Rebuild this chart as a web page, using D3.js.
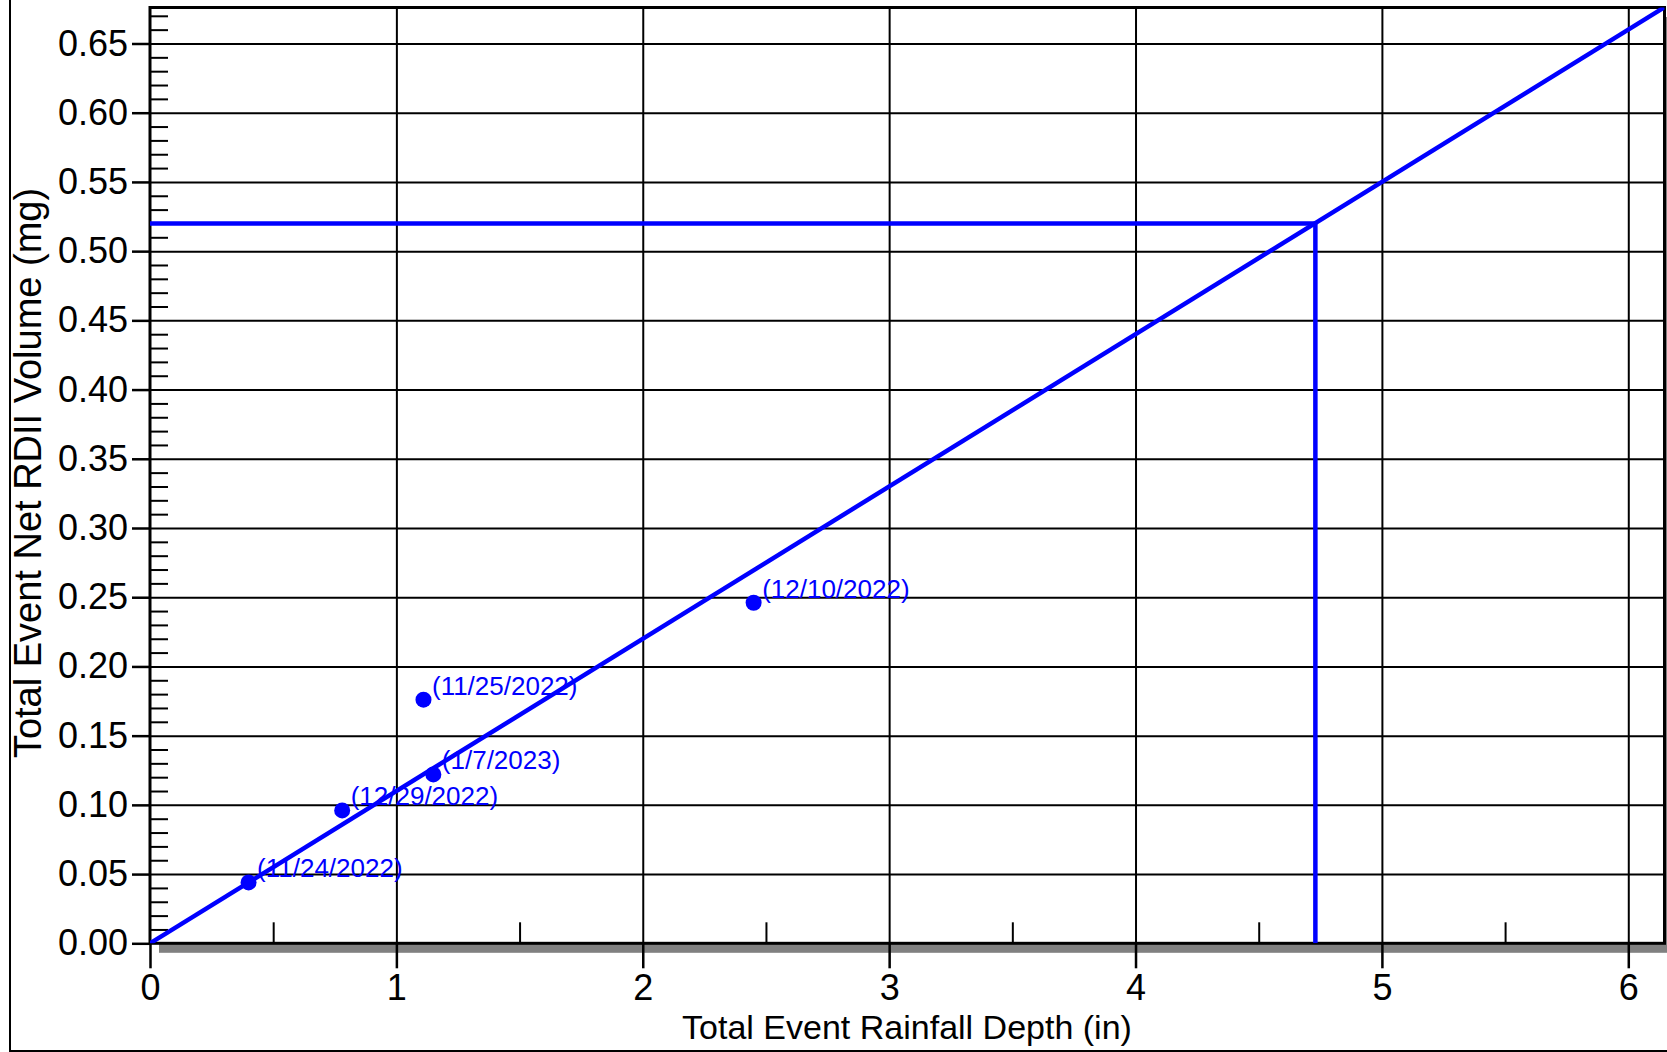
<!DOCTYPE html>
<html>
<head>
<meta charset="utf-8">
<script src="https://cdn.jsdelivr.net/npm/d3@7/dist/d3.min.js"></script>
<style>
  html, body { margin: 0; padding: 0; background: #fff; }
  svg { display: block; font-family: "Liberation Sans", Arial, sans-serif; }
</style>
</head>
<body>
<svg id="chart" width="1667" height="1052"></svg>
<script>
// Storm events: total rainfall depth vs. net RDII volume
const eventDates   = ["11/24/2022", "12/29/2022", "11/25/2022", "1/7/2023", "12/10/2022"];
const rainfallIn   = [0.40, 0.78, 1.11, 1.15, 2.45];
const rdiiVolumeMg = [0.044, 0.096, 0.176, 0.122, 0.246];

// Fitted line through the origin and the design-storm read-off
const fitSlope = 0.11;
const designRainfall = 4.73;
const designVolume = 0.52;

// Axis ticks
const xTickValues = [0, 1, 2, 3, 4, 5, 6];
const xMinorTicks = [0.5, 1.5, 2.5, 3.5, 4.5, 5.5];
const yTickValues = [0.00, 0.05, 0.10, 0.15, 0.20, 0.25, 0.30, 0.35, 0.40, 0.45, 0.50, 0.55, 0.60, 0.65];
const xDomain = [0, 6.147];
const yDomain = [0, 0.676];

const plotLeft = 150, plotRight = 1664.5, plotTop = 7.5, plotBottom = 943.3;
const blue = "#0000ff";

const svg = d3.select("#chart");
const x = d3.scaleLinear().domain(xDomain).range([plotLeft, plotRight]);
const y = d3.scaleLinear().domain(yDomain).range([plotBottom, plotTop]);
const yMinorTicks = d3.range(0, 0.6761, 0.01).map(v => +v.toFixed(2))
  .filter(v => !yTickValues.some(t => Math.abs(t - v) < 1e-9));

// Outer frame
svg.append("rect")
  .attr("x", 10).attr("y", -10).attr("width", 1700).attr("height", 1061)
  .attr("fill", "none").attr("stroke", "#000").attr("stroke-width", 2);

// Drop shadow behind the plot area
svg.append("rect")
  .attr("x", plotLeft + 9).attr("y", plotTop + 9.5)
  .attr("width", plotRight - plotLeft).attr("height", plotBottom - plotTop)
  .attr("fill", "#808080");
svg.append("rect")
  .attr("x", plotLeft).attr("y", plotTop)
  .attr("width", plotRight - plotLeft).attr("height", plotBottom - plotTop)
  .attr("fill", "#fff");

// Grid lines
svg.append("g")
  .attr("transform", `translate(0,${plotBottom})`)
  .call(d3.axisBottom(x).tickValues(xTickValues.filter(d => d > 0)).tickSize(-(plotBottom - plotTop)).tickFormat(""))
  .call(g => g.select(".domain").remove())
  .call(g => g.selectAll("line").attr("stroke", "#000").attr("stroke-width", 2));
svg.append("g")
  .attr("transform", `translate(${plotLeft},0)`)
  .call(d3.axisLeft(y).tickValues(yTickValues.filter(d => d > 0)).tickSize(-(plotRight - plotLeft)).tickFormat(""))
  .call(g => g.select(".domain").remove())
  .call(g => g.selectAll("line").attr("stroke", "#000").attr("stroke-width", 2));

// Minor ticks (pointing inward)
svg.append("g")
  .attr("transform", `translate(${plotLeft},0)`)
  .call(d3.axisLeft(y).tickValues(yMinorTicks).tickSize(-18).tickFormat(""))
  .call(g => g.select(".domain").remove())
  .call(g => g.selectAll("line").attr("stroke", "#000").attr("stroke-width", 2));
svg.append("g")
  .attr("transform", `translate(0,${plotBottom})`)
  .call(d3.axisBottom(x).tickValues(xMinorTicks).tickSize(-21).tickFormat(""))
  .call(g => g.select(".domain").remove())
  .call(g => g.selectAll("line").attr("stroke", "#000").attr("stroke-width", 2));

// Major axes with labels
svg.append("g")
  .attr("transform", `translate(${plotLeft},0)`)
  .call(d3.axisLeft(y).tickValues(yTickValues).tickSize(18).tickPadding(4).tickFormat(d3.format(".2f")))
  .call(g => g.select(".domain").remove())
  .call(g => g.selectAll("line").attr("stroke", "#000").attr("stroke-width", 2.5))
  .call(g => g.selectAll("text").attr("fill", "#000").attr("font-size", 36)
    .attr("font-family", "Liberation Sans, Arial, sans-serif"));
svg.append("g")
  .attr("transform", `translate(0,${plotBottom})`)
  .call(d3.axisBottom(x).tickValues(xTickValues).tickSize(25).tickPadding(6).tickFormat(d3.format("d")))
  .call(g => g.select(".domain").remove())
  .call(g => g.selectAll("line").attr("stroke", "#000").attr("stroke-width", 2.5))
  .call(g => g.selectAll("text").attr("fill", "#000").attr("font-size", 36)
    .attr("font-family", "Liberation Sans, Arial, sans-serif"));

// Plot border
svg.append("rect")
  .attr("x", plotLeft).attr("y", plotTop)
  .attr("width", plotRight - plotLeft).attr("height", plotBottom - plotTop)
  .attr("fill", "none").attr("stroke", "#000").attr("stroke-width", 3);

// Axis titles
svg.append("text")
  .attr("x", 907).attr("y", 1039)
  .attr("text-anchor", "middle").attr("font-size", 34).attr("fill", "#000")
  .text("Total Event Rainfall Depth (in)");
svg.append("text")
  .attr("transform", "translate(41,473) rotate(-90)")
  .attr("text-anchor", "middle").attr("font-size", 38).attr("fill", "#000")
  .text("Total Event Net RDII Volume (mg)");

const clipId = "plot-clip";
svg.append("clipPath").attr("id", clipId)
  .append("rect").attr("x", plotLeft).attr("y", plotTop)
  .attr("width", plotRight - plotLeft).attr("height", plotBottom - plotTop);
const plot = svg.append("g").attr("clip-path", `url(#${clipId})`);

// Event labels
const events = eventDates.map((d, i) => ({ date: d, rain: rainfallIn[i], vol: rdiiVolumeMg[i] }));
plot.selectAll("text.evt").data(events).join("text")
  .attr("class", "evt")
  .attr("x", d => x(d.rain) + 8.5)
  .attr("y", d => y(d.vol) - 5)
  .attr("font-size", 26).attr("fill", blue)
  .text(d => `(${d.date})`);

// Design-storm read-off lines
plot.append("path")
  .attr("d", d3.line()([[x(0), y(designVolume)], [x(designRainfall), y(designVolume)], [x(designRainfall), y(0)]]))
  .attr("fill", "none").attr("stroke", blue).attr("stroke-width", 4.5);

// Fitted line
plot.append("line")
  .attr("x1", x(0)).attr("y1", y(0))
  .attr("x2", x(xDomain[1])).attr("y2", y(fitSlope * xDomain[1]))
  .attr("stroke", blue).attr("stroke-width", 4.5);

// Event points
plot.selectAll("circle").data(events).join("circle")
  .attr("cx", d => x(d.rain)).attr("cy", d => y(d.vol)).attr("r", 8)
  .attr("fill", blue);
</script>
</body>
</html>
